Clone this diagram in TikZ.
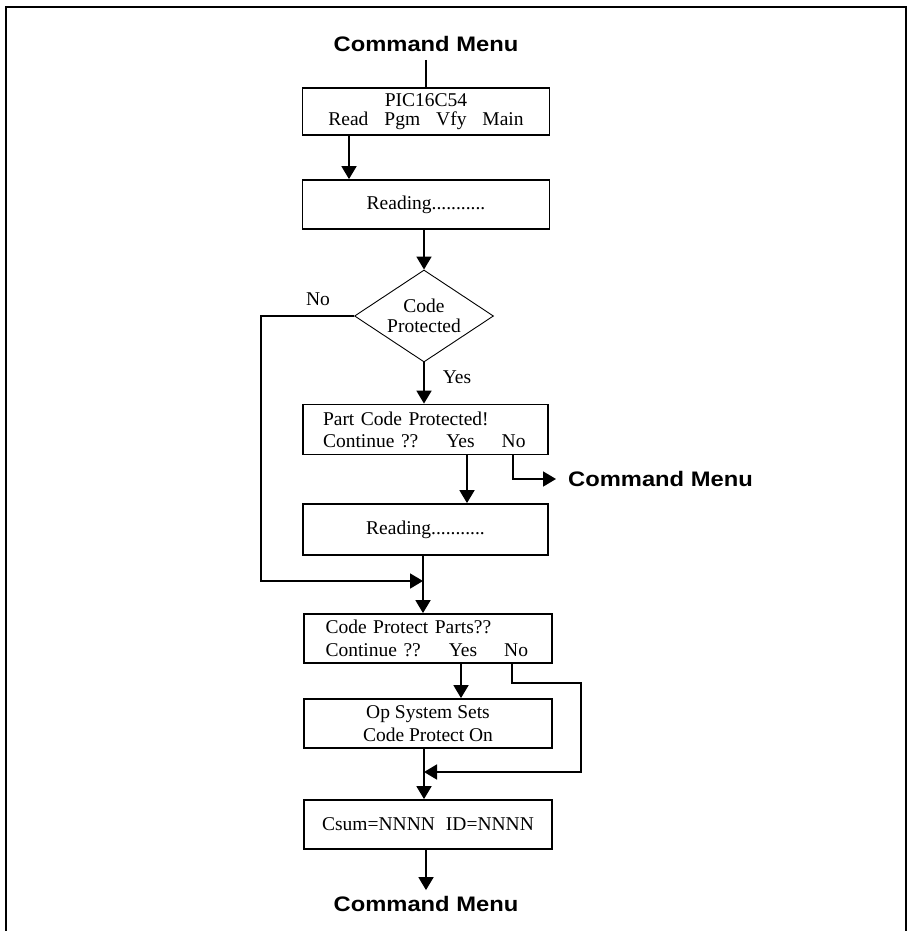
\documentclass[tikz,border=0pt]{standalone}
\usepackage{fontspec}
\setmainfont{Liberation Serif}
\newfontfamily\menufont{Liberation Sans}[FakeStretch=1.13]
\usetikzlibrary{arrows.meta,shapes.geometric}

\begin{document}
\begin{tikzpicture}[x=1pt,y=-1pt,
    box/.style={draw, line width=1.8pt, minimum width=247pt, minimum height=49pt,
      inner sep=0pt, align=center, font=\fontsize{19.5}{23}\selectfont},
    lbox/.style={box, align=left, text width=205pt},
    arr/.style={line width=1.8pt, -{Triangle[width=15pt,length=13pt]}},
    link/.style={line width=1.8pt},
    menu/.style={inner sep=0pt, font=\menufont\bfseries\fontsize{21}{24}\selectfont},
    lbl/.style={inner sep=0pt, font=\fontsize{19.5}{22}\selectfont}]

    \useasboundingbox (0,0) rectangle (917,931);
    % outer frame (open at the bottom)
    \draw[line width=1.6pt] (6,931) -- (6,7) -- (906,7) -- (906,931);

    % Boxes
    \node[menu] (cmTop) at (426,44) {Command Menu};
    \node[box, minimum height=47pt, font=\fontsize{19.5}{19}\selectfont] (pic) at (426,111.5)
      {PIC16C54\\Read\hspace{16pt}Pgm\hspace{16pt}Vfy\hspace{16pt}Main};
    \node[box] (rd1) at (426,204.5) {Reading...........};
    \node[draw, diamond, line width=0.9pt, aspect=1.5, minimum width=139pt, minimum height=92pt,
      inner sep=0pt, align=center, font=\fontsize{19.5}{20}\selectfont] (prot) at (424,316) {Code\\Protected};
    \node[lbox, minimum width=245pt, minimum height=50pt, font=\fontsize{19.5}{22}\selectfont] (part) at (425.5,429.5)
      {Part Code Protected!\\Continue ??\hspace{28pt}Yes\hspace{27pt}No};
    \node[menu, anchor=west] (cmRight) at (568,479) {Command Menu};
    \node[box, minimum width=245pt, minimum height=51pt] (rd2) at (425.5,529.5) {Reading...........};
    \node[lbox, minimum width=248pt] (cpp) at (428,638.5)
      {Code Protect Parts??\\Continue ??\hspace{28pt}Yes\hspace{27pt}No};
    \node[box, minimum width=248pt] (opsys) at (428,723.5) {Op System Sets\\Code Protect On};
    \node[box, minimum width=248pt] (csum) at (428,824.5) {Csum=NNNN\hspace{11pt}ID=NNNN};
    \node[menu] (cmBot) at (426,904) {Command Menu};

    % branch labels
    \node[lbl] (no1) at (318,299) {No};
    \node[lbl] (yes1) at (457,377) {Yes};

    % columns and joins
    \coordinate (xa) at (349,0);
    \coordinate (xyes) at (467,0);
    \coordinate (xno) at (513,0);
    \coordinate (xyes2) at (461,0);
    \coordinate (xno2) at (512,0);
    \coordinate (xleft) at (261,0);
    \coordinate (bend) at (581,683);
    \coordinate (jn1) at (423,581);
    \coordinate (jn2) at (424,772);

    % Connectors
    \draw[link, shorten <=8pt] (cmTop.south) -- (pic.north);
    \draw[arr] (pic.south -| xa) -- (rd1.north -| xa);
    \draw[arr] (rd1.south -| prot.north) -- (prot.north);
    \draw[arr] (prot.south) -- (part.north -| prot.south);
    \draw[arr] (prot.west) -| (xleft |- jn1) -- (jn1);
    \draw[arr] (part.south -| xyes) -- (rd2.north -| xyes);
    \draw[arr, shorten >=12pt] (part.south -| xno) |- (cmRight.west);
    \draw[arr] (rd2.south -| jn1) -- (cpp.north -| jn1);
    \draw[arr] (cpp.south -| xyes2) -- (opsys.north -| xyes2);
    \draw[arr] (cpp.south -| xno2) |- (bend) |- (jn2);
    \draw[arr] (opsys.south -| jn2) -- (csum.north -| jn2);
    \draw[arr, shorten >=6pt] (csum.south -| cmBot.north) -- (cmBot.north);
\end{tikzpicture}
\end{document}
